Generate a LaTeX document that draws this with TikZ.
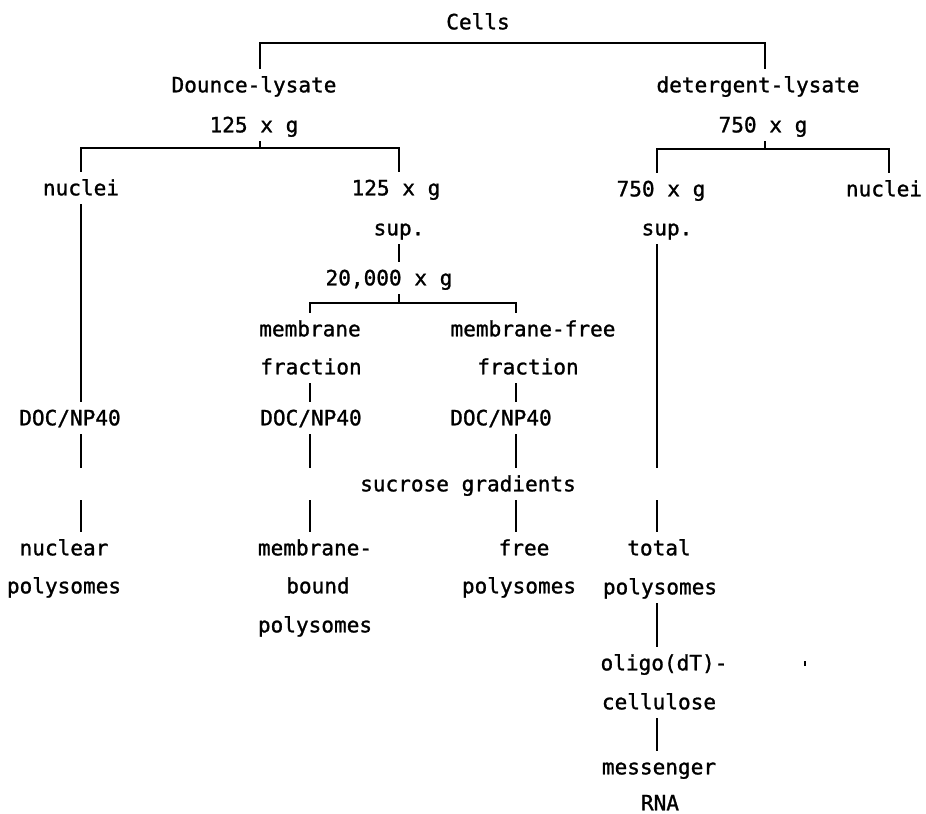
\documentclass[tikz,border=0pt]{standalone}
\usepackage{fontspec}
\newfontfamily\tw[FakeBold=1.2]{DejaVu Sans Mono}
\begin{document}
\begin{tikzpicture}[x=0.75pt,y=-0.75pt,
  lab/.style={font=\tw\fontsize{15.8}{18}\selectfont, inner sep=0pt, text height=11pt, text depth=0pt, minimum height=24pt},
  ln/.style={line width=1.5pt}]
\useasboundingbox (0,0) rectangle (926,814);
% columns and bar levels
\coordinate (cT1) at (260,0);
\coordinate (cT2) at (765,0);
\coordinate (c1) at (81,0);
\coordinate (c2) at (399,0);
\coordinate (c3) at (310,0);
\coordinate (c4) at (516,0);
\coordinate (c5) at (657,0);
\coordinate (c6) at (889,0);
\coordinate (barT) at (0,43);
\coordinate (barL) at (0,148);
\coordinate (barR) at (0,149);
\coordinate (barM) at (0,303);
% texts
\node[lab] (cells) at (478,22) {Cells};
\node[lab] (dounce) at (254,85) {Dounce-lysate};
\node[lab] (deterg) at (758,85) {detergent-lysate};
\node[lab] (gA) at (254,125) {125 x g};
\node[lab] (gB) at (763,125) {750 x g};
\node[lab] (nucL) at (81,188) {nuclei};
\node[lab] (gC) at (396,188) {125 x g};
\node[lab] (gD) at (661,189) {750 x g};
\node[lab] (nucR) at (884,189) {nuclei};
\node[lab] (supL) at (399,228) {sup.};
\node[lab] (supR) at (667,228) {sup.};
\node[lab] (g20) at (389,278) {20,000 x g};
\node[lab] (memA) at (310,329) {membrane};
\node[lab] (mfA) at (533,329) {membrane-free};
\node[lab] (memB) at (311,367) {fraction};
\node[lab] (mfB) at (528,367) {fraction};
\node[lab] (docL) at (70,418) {DOC/NP40};
\node[lab] (docM) at (311,418) {DOC/NP40};
\node[lab] (docR) at (501,418) {DOC/NP40};
\node[lab] (sucr) at (468,484) {sucrose gradients};
\node[lab] (nuA) at (64,548) {nuclear};
\node[lab] (nuB) at (64,586) {polysomes};
\node[lab] (mbA) at (315,548) {membrane-};
\node[lab] (mbB) at (318,586) {bound};
\node[lab] (mbC) at (315,625) {polysomes};
\node[lab] (frA) at (524,548) {free};
\node[lab] (frB) at (519,586) {polysomes};
\node[lab] (toA) at (659,548) {total};
\node[lab] (toB) at (660,587) {polysomes};
\node[lab] (olA) at (664,663) {oligo(dT)-};
\node[lab] (olB) at (659,702) {cellulose};
\node[lab] (meA) at (659,767) {messenger};
\node[lab] (meB) at (660,803) {RNA};
% top bracket
\draw[ln] (cT1 |- dounce.north) -- (cT1 |- barT) -- (cT2 |- barT) -- (cT2 |- deterg.north);
% left bracket
\draw[ln] (cT1 |- gA.south) -- (cT1 |- barL);
\draw[ln] (c1 |- nucL.north) -- (c1 |- barL) -- (c2 |- barL) -- (c2 |- gC.north);
% right bracket
\draw[ln] (cT2 |- gB.south) -- (cT2 |- barR);
\draw[ln] (c5 |- gD.north) -- (c5 |- barR) -- (c6 |- barR) -- (c6 |- nucR.north);
% nuclei column
\draw[ln] (c1 |- nucL.south) -- (c1 |- docL.north);
\draw[ln] (c1 |- docL.south) -- (c1 |- sucr.north);
\draw[ln] (c1 |- sucr.south) -- (c1 |- nuA.north);
% 125 x g sup column
\draw[ln] (c2 |- supL.south) -- (c2 |- g20.north);
\draw[ln] (c2 |- g20.south) -- (c2 |- barM);
\draw[ln] (c3 |- memA.north) -- (c3 |- barM) -- (c4 |- barM) -- (c4 |- mfA.north);
% membrane column
\draw[ln] (c3 |- memB.south) -- (c3 |- docM.north);
\draw[ln] (c3 |- docM.south) -- (c3 |- sucr.north);
\draw[ln] (c3 |- sucr.south) -- (c3 |- mbA.north);
% membrane-free column
\draw[ln] (c4 |- mfB.south) -- (c4 |- docR.north);
\draw[ln] (c4 |- docR.south) -- (sucr.north -| c4);
\draw[ln] (sucr.south -| c4) -- (c4 |- frA.north);
% detergent column
\draw[ln] (c5 |- supR.south) -- (c5 |- sucr.north);
\draw[ln] (c5 |- sucr.south) -- (c5 |- toA.north);
\draw[ln] (c5 |- toB.south) -- (c5 |- olA.north);
\draw[ln] (c5 |- olB.south) -- (c5 |- meA.north);
% speck
\draw[line width=1.6pt] (805,661) -- (805,666);
\end{tikzpicture}
\end{document}
